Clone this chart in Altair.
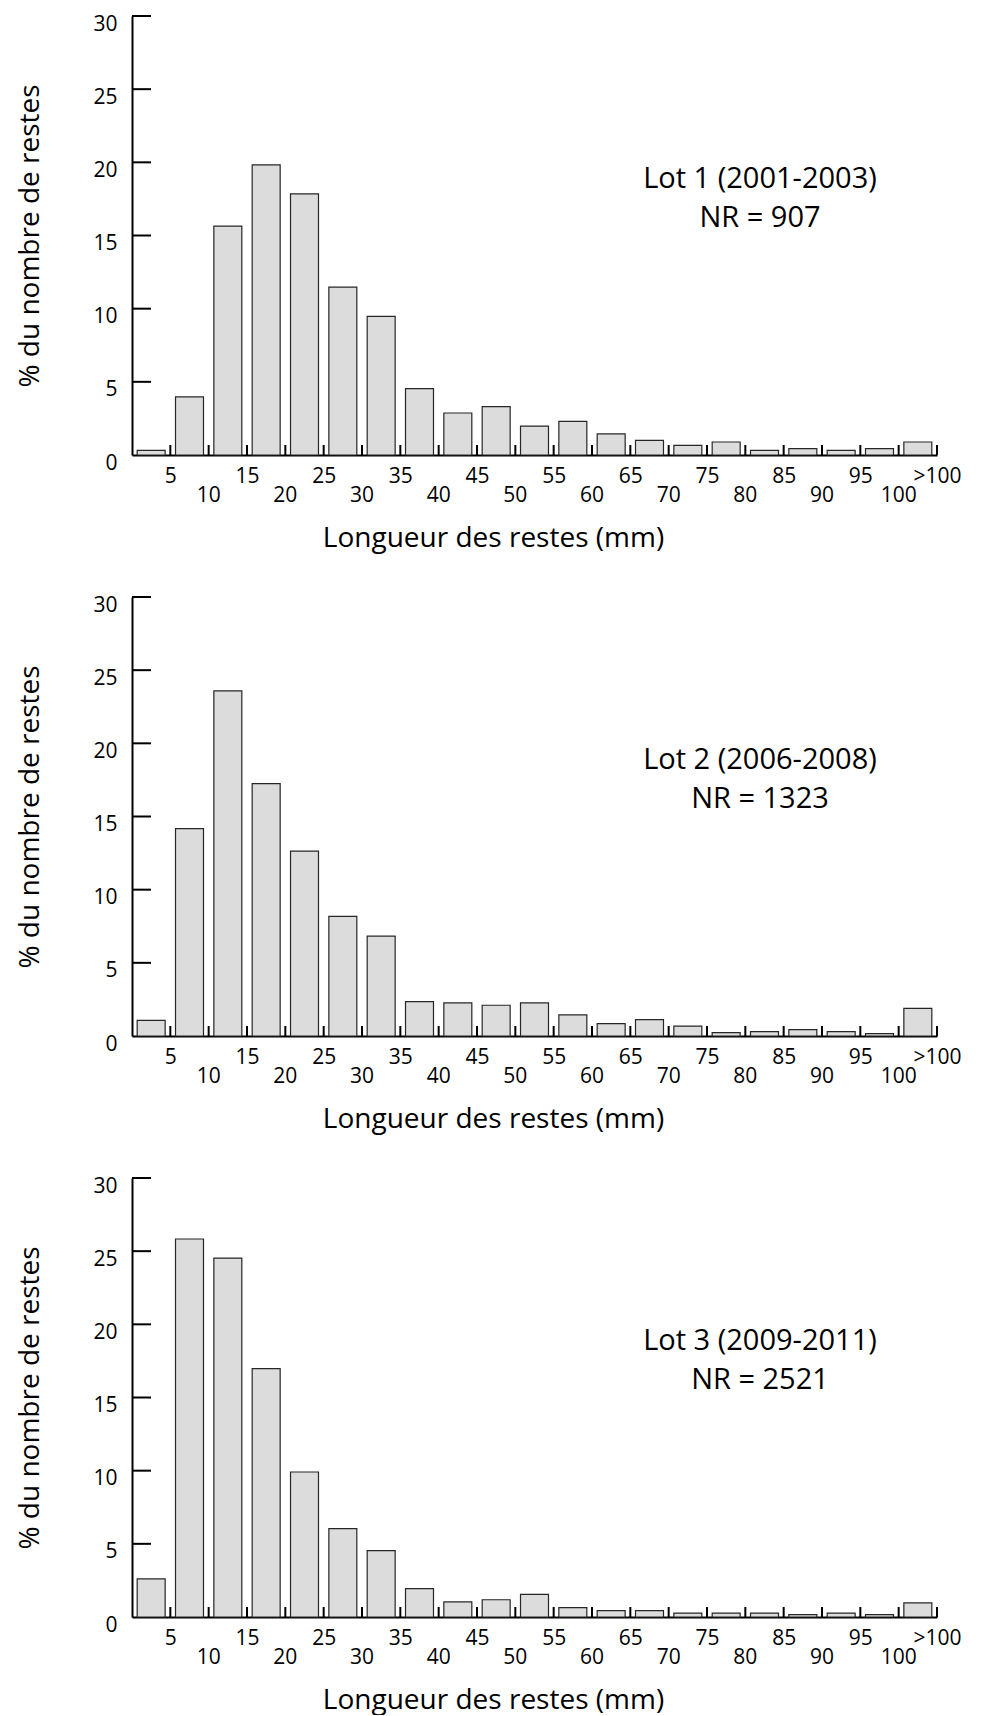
import altair as alt
import pandas as pd

FONT = "Open Sans"

# bin starts / ends (mm) for the 21 classes: 0-5, 5-10, ..., 95-100, >100
bin_start = [0, 5, 10, 15, 20, 25, 30, 35, 40, 45, 50, 55, 60, 65, 70, 75, 80, 85, 90, 95, 100]
bin_end = [5, 10, 15, 20, 25, 30, 35, 40, 45, 50, 55, 60, 65, 70, 75, 80, 85, 90, 95, 100, 105]

lot1 = [0.32, 3.97, 15.64, 19.83, 17.85, 11.47, 9.48, 4.54, 2.87, 3.31, 1.98,
        2.30, 1.44, 1.00, 0.66, 0.89, 0.32, 0.43, 0.32, 0.43, 0.89]
lot2 = [1.07, 14.17, 23.59, 17.25, 12.64, 8.17, 6.82, 2.35, 2.26, 2.10, 2.26,
        1.44, 0.84, 1.12, 0.68, 0.23, 0.30, 0.43, 0.30, 0.16, 1.89]
lot3 = [2.60, 25.83, 24.53, 16.97, 9.91, 6.04, 4.53, 1.94, 1.03, 1.18, 1.55,
        0.64, 0.43, 0.43, 0.27, 0.27, 0.27, 0.16, 0.27, 0.16, 0.96]

lot_titles = ["Lot 1 (2001-2003)", "Lot 2 (2006-2008)", "Lot 3 (2009-2011)"]
lot_nr = ["NR = 907", "NR = 1323", "NR = 2521"]

# x ticks at class boundaries; labels staggered on two rows
x_tick_values = [5, 10, 15, 20, 25, 30, 35, 40, 45, 50, 55, 60, 65, 70, 75, 80, 85, 90, 95, 100, 105]
x_upper_values = [5, 15, 25, 35, 45, 55, 65, 75, 85, 95, 105]
x_lower_values = [10, 20, 30, 40, 50, 60, 70, 80, 90, 100]
x_lower_labels = ["10", "20", "30", "40", "50", "60", "70", "80", "90", "100"]
y_tick_values = [5, 10, 15, 20, 25, 30]
y_label_values = [0, 5, 10, 15, 20, 25, 30]

W, H = 805, 439
GAP = 0.675  # half gap between bars (in mm units)
TICK_FS = 21


def panel(values, title, nr):
    df = pd.DataFrame({"start": bin_start, "end": bin_end, "pct": values})
    xscale = alt.Scale(domain=[0, 105], nice=False, zero=False)
    yscale = alt.Scale(domain=[0, 30], nice=False)

    bars = alt.Chart(df).transform_calculate(
        s=f"datum.start + {GAP}", e=f"datum.end - {GAP}"
    ).mark_bar(fill="#dcdcdc", stroke="#262626", strokeWidth=1.2).encode(
        x=alt.X("s:Q", scale=xscale, axis=alt.Axis(
            values=x_upper_values,
            ticks=False,
            grid=False,
            domainColor="black", domainWidth=2,
            labelFont=FONT, labelFontSize=TICK_FS, labelColor="black",
            labelPadding=10, labelBaseline="top",
            labelAlign="center", labelFlush=False, labelOverlap=False,
            labelExpr="datum.value > 100 ? '>100' : datum.label",
            title="Longueur des restes (mm)",
            titleFont=FONT, titleFontSize=28, titleFontWeight="normal", titleColor="black",
            titleX=361, titleY=83, titleBaseline="middle", titleAlign="center",
        )),
        x2="e:Q",
        y=alt.Y("pct:Q", scale=yscale, axis=alt.Axis(
            values=y_label_values,
            ticks=False,
            grid=False,
            domainColor="black", domainWidth=2,
            labelFont=FONT, labelFontSize=TICK_FS, labelColor="black",
            labelPadding=15, labelOffset=8,
            title="% du nombre de restes",
            titleFont=FONT, titleFontSize=28, titleFontWeight="normal", titleColor="black",
            titlePadding=48,
        )),
        y2=alt.datum(0),
    )

    lower = alt.Chart(pd.DataFrame({"v": x_lower_values, "t": x_lower_labels})).mark_text(
        font=FONT, fontSize=TICK_FS, color="black", align="center", baseline="top",
    ).encode(x=alt.X("v:Q", scale=xscale), y=alt.value(H + 10 + 19.5), text="t:N")

    xt = alt.Chart(pd.DataFrame({"v": x_tick_values})).mark_rule(
        color="black", strokeWidth=2
    ).encode(x=alt.X("v:Q", scale=xscale), y=alt.value(H), y2=alt.value(H - 10))

    yt = alt.Chart(pd.DataFrame({"v": y_tick_values})).mark_rule(
        color="black", strokeWidth=2
    ).encode(y=alt.Y("v:Q", scale=yscale), x=alt.value(0), x2=alt.value(19))

    txt = alt.Chart(pd.DataFrame({"t": [title]})).mark_text(
        font=FONT, fontSize=29, color="black", align="center", baseline="middle",
        lineHeight=39,
    ).encode(
        x=alt.value(628), y=alt.value(163),
        text=alt.value([title, nr]),
    )

    return alt.layer(bars, lower, xt, yt, txt).properties(width=W, height=H)


chart = alt.vconcat(
    panel(lot1, lot_titles[0], lot_nr[0]),
    panel(lot2, lot_titles[1], lot_nr[1]),
    panel(lot3, lot_titles[2], lot_nr[2]),
    spacing=42,
).properties(
    background="white",
    padding={"left": 8, "top": 5, "right": 5, "bottom": 1},
).configure_view(stroke=None)

chart.save("out.html", embed_options={"renderer": "svg", "actions": False})
